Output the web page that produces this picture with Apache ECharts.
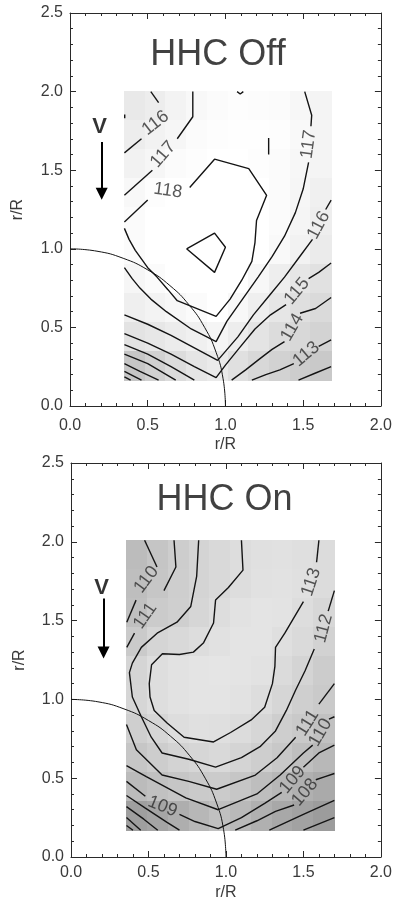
<!DOCTYPE html>
<html><head><meta charset="utf-8">
<script src="https://cdn.jsdelivr.net/npm/echarts/dist/echarts.min.js"></script>
<style>html,body{margin:0;padding:0;background:#fff}#c{width:395px;height:906px}</style>
</head><body><div id="c"></div>
<script>
// ---------------- DATA ----------------
const panelTitles = ['HHC Off', 'HHC On'];
const titlePosOff = [0.952, 2.23];
const titlePosOn = [0.99, 2.265];
const axisName = 'r/R';

// grey shading: SPL (dB) sampled on cell centres
const offCellX = [0.417, 0.550, 0.683, 0.816, 0.950, 1.083, 1.216, 1.349, 1.482, 1.615];
const offCellY = [1.908, 1.725, 1.541, 1.358, 1.174, 0.991, 0.807, 0.624, 0.440, 0.257];
const offSPL = [
  [115.5,116.0,116.6,117.2,117.6,117.8,117.7,117.5,117.1,116.7],
  [115.9,116.5,117.0,117.5,117.8,117.9,117.9,117.8,117.3,116.8],
  [116.5,117.0,117.5,117.8,118.1,118.1,117.8,117.5,117.1,116.7],
  [117.2,117.8,118.0,118.4,118.6,118.5,118.1,117.6,117.0,116.3],
  [117.6,118.4,118.7,118.9,118.9,118.7,118.1,117.5,116.9,116.1],
  [117.5,118.5,118.8,119.1,119.1,118.6,118.0,117.3,116.5,115.7],
  [117.0,117.6,118.2,118.4,118.6,118.2,117.1,116.1,115.2,114.6],
  [116.2,116.6,117.1,117.6,118.0,117.2,116.2,115.1,114.3,113.8],
  [114.8,115.3,115.8,116.3,116.9,115.9,114.9,114.0,113.5,113.0],
  [111.5,112.8,114.0,115.0,115.6,114.5,113.6,112.9,112.3,111.9]
];
const onCellX = [0.427, 0.561, 0.695, 0.829, 0.963, 1.097, 1.231, 1.365, 1.499, 1.633];
const onCellY = [1.918, 1.734, 1.550, 1.366, 1.182, 0.998, 0.814, 0.630, 0.446, 0.262];
const onSPL = [
  [109.6,110.5,111.4,112.1,112.6,113.0,113.4,113.5,113.3,112.9],
  [109.8,110.6,111.5,112.1,112.6,113.0,113.5,113.6,113.4,112.9],
  [110.0,111.2,111.6,112.3,113.0,113.6,113.8,113.7,113.1,112.4],
  [111.1,112.2,112.6,113.0,113.5,113.8,113.8,113.3,112.7,111.9],
  [112.2,113.2,113.6,113.8,113.9,113.8,113.6,112.8,112.1,111.3],
  [112.3,113.2,113.6,113.8,113.8,113.6,113.1,112.3,111.6,111.0],
  [111.6,112.3,113.1,113.4,113.3,112.9,112.3,111.5,110.9,110.1],
  [110.6,111.4,112.0,112.3,112.6,112.1,111.5,110.8,109.9,109.2],
  [109.5,110.1,110.6,111.0,111.2,110.6,109.8,109.1,108.3,107.7],
  [106.5,107.2,108.1,109.1,110.0,109.3,108.3,107.5,106.8,106.2]
];

// rotor disk edge r/R = 1
const diskArc = [[0,1],[0.1736,0.9848],[0.342,0.9397],[0.5,0.866],[0.6428,0.766],[0.766,0.6428],[0.866,0.5],[0.9397,0.342],[0.9848,0.1736],[1,0]];

// ---- HHC Off contour polylines ----
const off118a = [[0.35,1.17],[0.50,1.31]];
const off118b = [[0.77,1.39],[0.93,1.57],[1.15,1.51],[1.265,1.34],[1.20,1.18],[1.19,1.04],[1.17,0.92],[1.105,0.80],[1.03,0.68],[0.94,0.57],[0.69,0.67],[0.63,0.74],[0.56,0.82],[0.50,0.88],[0.42,0.99],[0.38,1.06],[0.35,1.13]];
const off119 = [[0.75,1.0],[0.93,1.10],[1.00,1.01],[0.93,0.85],[0.75,1.0]];
const off117a = [[0.79,2.0],[0.79,1.84],[0.69,1.70]];
const off117b = [[0.53,1.50],[0.35,1.34]];
const off116a = [[0.52,2.0],[0.57,1.93]];
const off116b = [[0.46,1.70],[0.35,1.61]];
const off117Ra = [[1.51,2.0],[1.555,1.85],[1.55,1.78]];
const off117Rb = [[1.535,1.55],[1.50,1.38],[1.45,1.23],[1.38,1.08],[1.30,0.95],[1.21,0.82],[1.11,0.68],[1.01,0.54],[0.94,0.41],[0.78,0.49],[0.62,0.60],[0.52,0.68],[0.45,0.75],[0.40,0.81],[0.35,0.88]];
const off116Ra = [[1.68,1.31],[1.645,1.25]];
const off116Rb = [[1.56,1.06],[1.47,0.94],[1.38,0.82],[1.28,0.70],[1.18,0.58],[1.08,0.44],[0.95,0.29],[0.80,0.37],[0.65,0.45],[0.50,0.52],[0.35,0.58]];
const off115Ra = [[1.68,0.91],[1.60,0.85],[1.535,0.81]];
const off115Rb = [[1.39,0.645],[1.29,0.58],[1.19,0.49],[1.09,0.37],[1.00,0.26],[0.94,0.18],[0.80,0.25],[0.65,0.33],[0.50,0.40],[0.35,0.46]];
const off114Ra = [[1.68,0.69],[1.58,0.62],[1.48,0.59]];
const off114Rb = [[1.38,0.41],[1.30,0.36],[1.22,0.30],[1.13,0.23],[1.04,0.165]];
const off114L = [[0.80,0.165],[0.65,0.25],[0.50,0.33],[0.35,0.39]];
const off113Ra = [[1.68,0.42],[1.60,0.38]];
const off113Rb = [[1.44,0.27],[1.35,0.23],[1.26,0.20],[1.17,0.165]];
const off113L = [[0.68,0.165],[0.50,0.27],[0.35,0.33]];
const off112R = [[1.47,0.165],[1.58,0.21],[1.68,0.25]];
const off112L = [[0.57,0.165],[0.45,0.22],[0.35,0.27]];
const off111L = [[0.46,0.165],[0.40,0.195],[0.35,0.22]];
const off110L = [[0.39,0.165],[0.35,0.185]];
const offBar = [[1.278,1.705],[1.278,1.60]];
const offTick = [[1.075,2.0],[1.095,1.985],[1.115,2.0]];
const offDot = [[0.352,1.855],[0.352,1.83]];
const offContours = [off118a,off118b,off119,off117a,off117b,off116a,off116b,off117Ra,off117Rb,off116Ra,off116Rb,off115Ra,off115Rb,off114Ra,off114Rb,off114L,off113Ra,off113Rb,off113L,off112R,off112L,off111L,off110L,offBar,offTick,offDot];
const offLabelText = ['118','117','116','117','116','115','114','113'];
const offLabelPos = [[0.63,1.37],[0.60,1.60],[0.55,1.80],[1.535,1.665],[1.60,1.15],[1.46,0.73],[1.43,0.50],[1.52,0.33]];
const offLabelRot = [-8, 49, 38, 82, 62, 50, 60, 40];

// ---- HHC On contour polylines ----
const on110a = [[0.475,2.01],[0.555,1.84]];
const on110b = [[0.42,1.63],[0.36,1.49]];
const on111a = [[0.665,2.01],[0.677,1.84],[0.60,1.69]];
const on111b = [[0.41,1.42],[0.36,1.33]];
const on112a = [[0.824,2.01],[0.811,1.78],[0.773,1.59],[0.684,1.49],[0.556,1.42],[0.454,1.33],[0.396,1.23],[0.377,1.17],[0.396,1.015],[0.454,0.89],[0.518,0.76],[0.588,0.66],[0.76,0.62],[0.933,0.57],[1.10,0.63],[1.22,0.70],[1.32,0.80],[1.39,0.93],[1.45,1.06],[1.51,1.18],[1.57,1.32]];
const on112b = [[1.66,1.56],[1.70,1.69]];
const on113a = [[1.10,2.01],[1.11,1.82],[1.016,1.71],[0.933,1.63],[0.92,1.485],[0.856,1.36],[0.79,1.30],[0.70,1.285],[0.59,1.29],[0.52,1.22],[0.505,1.10],[0.51,1.015],[0.537,0.93],[0.62,0.85],[0.73,0.76],[0.92,0.73],[1.03,0.79],[1.163,0.87],[1.25,0.95],[1.30,1.10],[1.316,1.21],[1.32,1.33],[1.38,1.42],[1.44,1.52],[1.50,1.62]];
const on113b = [[1.585,1.87],[1.60,2.01]];
const on111La = [[0.358,0.84],[0.422,0.68],[0.588,0.52],[0.76,0.48],[0.94,0.43],[1.19,0.52],[1.33,0.63],[1.45,0.76]];
const on111Lb = [[1.60,0.97],[1.70,1.10]];
const on110La = [[0.358,0.58],[0.486,0.51],[0.741,0.375],[0.95,0.30],[1.20,0.40],[1.35,0.52],[1.50,0.66],[1.56,0.71]];
const on110Lb = [[1.665,0.875],[1.70,0.89]];
const on109a = [[0.358,0.48],[0.48,0.385]];
const on109b = [[0.70,0.27],[0.80,0.225],[0.95,0.18],[1.10,0.25],[1.25,0.34],[1.36,0.41]];
const on109c = [[1.50,0.57],[1.60,0.66],[1.70,0.71]];
const on108a = [[1.06,0.17],[1.20,0.23],[1.32,0.29],[1.44,0.33]];
const on108b = [[1.58,0.49],[1.64,0.51],[1.70,0.53]];
const on108L = [[0.358,0.39],[0.48,0.31],[0.62,0.22],[0.70,0.17]];
const on107L = [[0.358,0.32],[0.47,0.24],[0.56,0.17]];
const on106L = [[0.358,0.25],[0.45,0.17]];
const on105L = [[0.358,0.20],[0.40,0.17]];
const on107R = [[1.28,0.17],[1.50,0.27],[1.70,0.36]];
const on106R = [[1.50,0.17],[1.70,0.25]];
const onContours = [on110a,on110b,on111a,on111b,on112a,on112b,on113a,on113b,on111La,on111Lb,on110La,on110Lb,on109a,on109b,on109c,on108a,on108b,on108L,on107L,on106L,on105L,on107R,on106R];
const onLabelText = ['110','111','113','112','111','110','109','108','109'];
const onLabelPos = [[0.486,1.76],[0.48,1.53],[1.55,1.745],[1.63,1.45],[1.527,0.85],[1.61,0.79],[1.43,0.49],[1.51,0.41],[0.59,0.32]];
const onLabelRot = [53, 55, 72, 75, 58, 60, 50, 50, -22];

// flow direction marker
const flowLetter = 'V';
const offFlowLetterPos = [0.19, 1.775];
const onFlowLetterPos = [0.198, 1.71];
const offArrow = [[0.204, 1.68], [0.204, 1.35]];
const onArrow = [[0.21, 1.64], [0.21, 1.297]];

// ---------------- CHART ----------------
const FONT = 'Liberation Sans';
const INK = '#141414';
const chart = echarts.init(document.getElementById('c'));

function xAx(g, pos, withLabel, gap, margin) {
  return {
    type: 'value', gridIndex: g, position: pos, min: 0, max: 2, interval: 0.5,
    axisLine: { show: true, onZero: false, lineStyle: { color: '#2a2a2a', width: 1 } },
    axisTick: { show: true, inside: true, length: 6, lineStyle: { color: '#2a2a2a' } },
    minorTick: { show: true, splitNumber: 5, length: 3, lineStyle: { color: '#2a2a2a' } },
    splitLine: { show: false },
    axisLabel: { show: withLabel, margin: margin, formatter: v => v.toFixed(1), color: '#3a3a3a', fontSize: 16, fontFamily: FONT },
    name: withLabel ? axisName : '', nameLocation: 'middle', nameGap: gap,
    nameTextStyle: { color: '#3a3a3a', fontSize: 16, fontFamily: FONT }
  };
}
function yAx(g, pos, withLabel, gap) {
  return {
    type: 'value', gridIndex: g, position: pos, min: 0, max: 2.5, interval: 0.5,
    axisLine: { show: true, onZero: false, lineStyle: { color: '#2a2a2a', width: 1 } },
    axisTick: { show: true, inside: true, length: 6, lineStyle: { color: '#2a2a2a' } },
    minorTick: { show: true, splitNumber: 5, length: 3, lineStyle: { color: '#2a2a2a' } },
    splitLine: { show: false },
    axisLabel: { show: withLabel, margin: 7, formatter: v => v.toFixed(1), color: '#3a3a3a', fontSize: 16, fontFamily: FONT },
    name: withLabel ? axisName : '', nameLocation: 'middle', nameGap: gap, nameRotate: 90,
    nameTextStyle: { color: '#3a3a3a', fontSize: 16, fontFamily: FONT }
  };
}

function cells(xs, ys, vals) {
  const out = [];
  ys.forEach((y, r) => xs.forEach((x, c) => out.push([x, y, vals[r][c]])));
  return out;
}
function cellRenderer(xs, ys) {
  const dx = xs[1] - xs[0], dy = ys[0] - ys[1];
  return function (params, api) {
    const x = api.value(0), y = api.value(1);
    const p0 = api.coord([x - dx / 2, y + dy / 2]);
    const p1 = api.coord([x + dx / 2, y - dy / 2]);
    return {
      type: 'rect',
      shape: { x: Math.floor(p0[0]), y: Math.floor(p0[1]), width: Math.ceil(p1[0] - p0[0]) + 1, height: Math.ceil(p1[1] - p0[1]) + 1 },
      style: { fill: api.visual('color') }
    };
  };
}

const series = [];
series.push({ type: 'custom', xAxisIndex: 0, yAxisIndex: 0, renderItem: cellRenderer(offCellX, offCellY), data: cells(offCellX, offCellY, offSPL), z: 1, silent: true, animation: false });
series.push({ type: 'custom', xAxisIndex: 2, yAxisIndex: 2, renderItem: cellRenderer(onCellX, onCellY), data: cells(onCellX, onCellY, onSPL), z: 1, silent: true, animation: false });

function addLines(list, ax) {
  list.forEach(pts => series.push({
    type: 'line', xAxisIndex: ax, yAxisIndex: ax, data: pts, symbol: 'none', showSymbol: false,
    lineStyle: { color: INK, width: 1.4 }, z: 3, silent: true, animation: false
  }));
}
addLines(offContours, 0);
addLines(onContours, 2);

[0, 2].forEach(ax => series.push({
  type: 'line', xAxisIndex: ax, yAxisIndex: ax, data: diskArc, smooth: true, symbol: 'none', showSymbol: false,
  lineStyle: { color: INK, width: 1 }, z: 4, silent: true, animation: false
}));

function addLabels(texts, pos, rots, ax) {
  series.push({
    type: 'scatter', xAxisIndex: ax, yAxisIndex: ax, symbolSize: 0, z: 5, silent: true, animation: false,
    data: texts.map((t, i) => ({ name: t, value: pos[i], label: { rotate: rots[i] } })),
    label: { show: true, position: 'inside', formatter: '{b}', color: '#2e2e2e', fontSize: 18, fontFamily: FONT }
  });
}
addLabels(offLabelText, offLabelPos, offLabelRot, 0);
addLabels(onLabelText, onLabelPos, onLabelRot, 2);

// panel titles
[[panelTitles[0], titlePosOff, 0], [panelTitles[1], titlePosOn, 2]].forEach(([t, p, ax]) => series.push({
  type: 'scatter', xAxisIndex: ax, yAxisIndex: ax, symbolSize: 0, z: 5, silent: true, animation: false,
  data: [{ name: t, value: p }],
  label: { show: true, position: 'inside', formatter: '{b}', color: '#111', fontSize: 36, fontFamily: FONT }
}));

// flow arrow
[[offFlowLetterPos, offArrow, 0], [onFlowLetterPos, onArrow, 2]].forEach(([lp, arr, ax]) => series.push({
  type: 'scatter', xAxisIndex: ax, yAxisIndex: ax, symbolSize: 0, z: 5, silent: true, animation: false,
  data: [{ name: flowLetter, value: lp }],
  label: { show: true, position: 'inside', formatter: '{b}', color: '#000', fontSize: 22, fontWeight: 'bold', fontFamily: FONT },
  markLine: {
    silent: true, animation: false, symbol: ['none', 'triangle'], symbolSize: 12,
    label: { show: false }, lineStyle: { color: '#000', width: 2, type: 'solid' },
    emphasis: { disabled: true },
    data: [[{ coord: arr[0] }, { coord: arr[1] }]]
  }
}));

chart.setOption({
  animation: false,
  backgroundColor: '#ffffff',
  grid: [
    { left: 70, top: 13, width: 313, height: 393, containLabel: false },
    { left: 71, top: 463, width: 314, height: 394, containLabel: false }
  ],
  xAxis: [xAx(0, 'bottom', true, 31, 12), xAx(0, 'top', false, 0, 0), xAx(1, 'bottom', true, 28, 8), xAx(1, 'top', false, 0, 0)],
  yAxis: [yAx(0, 'left', true, 44), yAx(0, 'right', false, 0), yAx(1, 'left', true, 43), yAx(1, 'right', false, 0)],
  visualMap: [
    { type: 'continuous', show: false, seriesIndex: 0, dimension: 2, min: 109, max: 118, inRange: { color: ['#b0b0b0', '#ffffff'] } },
    { type: 'continuous', show: false, seriesIndex: 1, dimension: 2, min: 106, max: 114, inRange: { color: ['#9a9a9a', '#e6e6e6'] } }
  ],
  series: series
});
</script>
</body></html>
